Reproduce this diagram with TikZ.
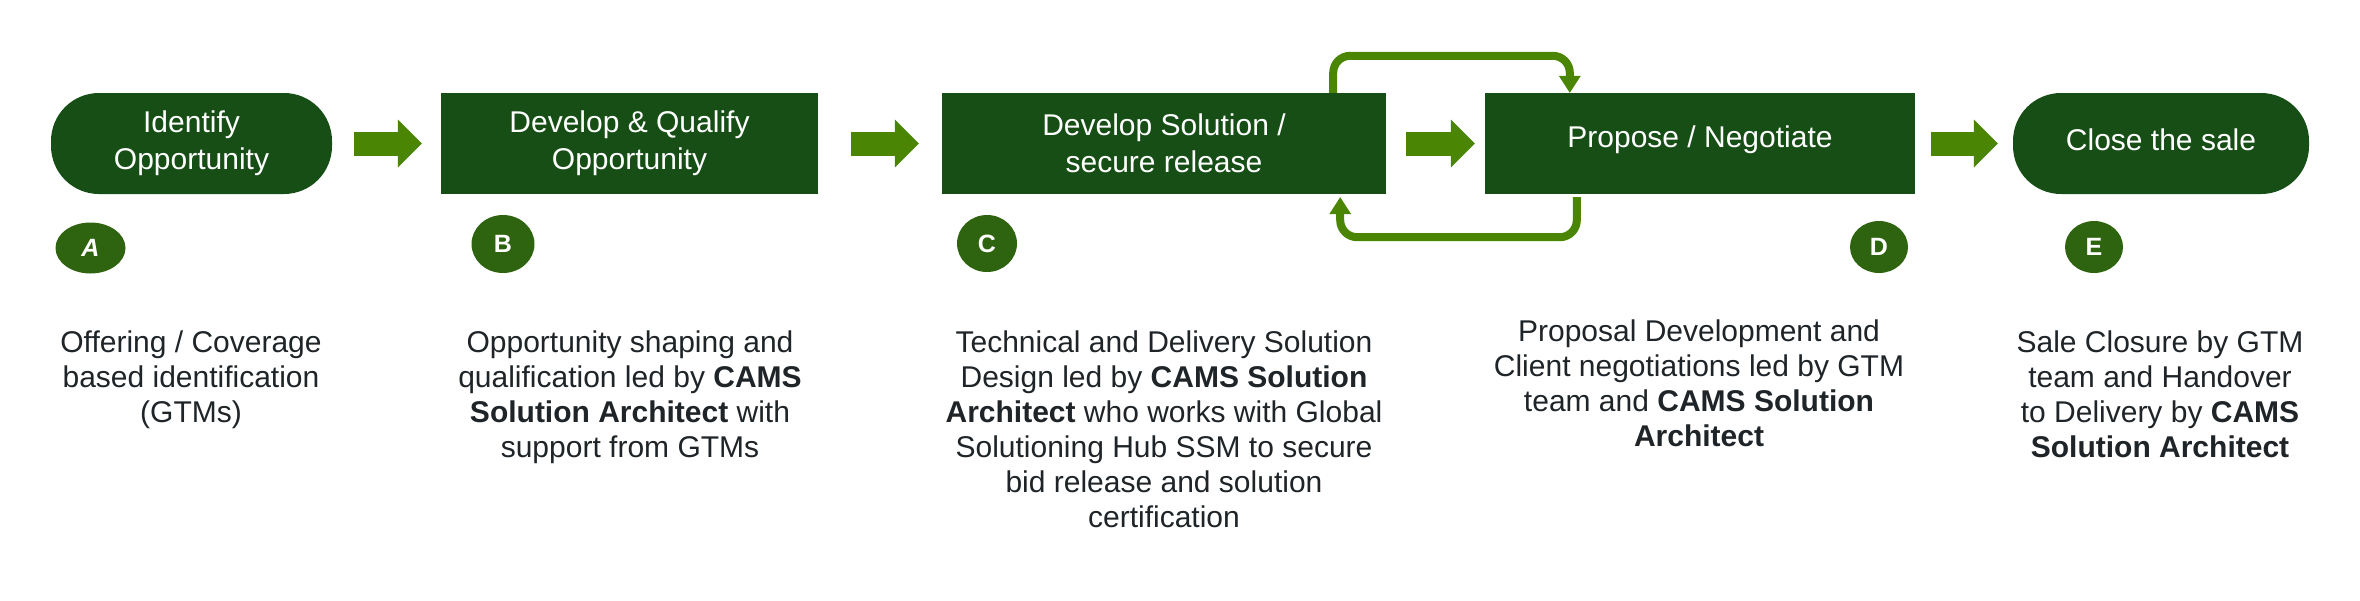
\documentclass[tikz,border=0pt]{standalone}
\usepackage{fontspec}
\setmainfont{Liberation Sans}
\usetikzlibrary{arrows.meta,shapes.geometric,calc}
\definecolor{boxgreen}{HTML}{164E16}
\definecolor{arrgreen}{HTML}{4A8504}
\definecolor{circgreen}{HTML}{2E640F}
\definecolor{txtdark}{HTML}{1E2427}
\begin{document}
\begin{tikzpicture}[x=1pt,y=-1pt,
  stage/.style={fill=boxgreen, minimum height=101pt, inner sep=0pt, text=white,
    font=\fontsize{30}{37}\selectfont, align=center},
  pill/.style={stage, rounded corners=48pt},
  stagetext/.style={inner sep=0pt, text=white, font=\fontsize{30}{37}\selectfont},
  badge/.style={ellipse, fill=circgreen, inner sep=0pt, text=white,
    font=\fontsize{25}{30}\selectfont\bfseries},
  desc/.style={anchor=north, inner sep=0pt, align=center, text=txtdark,
    font=\fontsize{30}{35}\selectfont},
  blockarrow/.style={draw=arrgreen, line width=24pt,
    -{Triangle[length=24pt,width=48pt,line width=0pt]}},
  looparrow/.style={draw=arrgreen, line width=8pt,
    -{Triangle[length=17pt,width=22pt,line width=0pt]}},
]
\useasboundingbox (0,0) rectangle (2360,600);

% stages
\node[pill, minimum width=281pt] (A) at (191.5,143.5) {Identify\\Opportunity};
\node[stage, minimum width=377pt] (B) at (629.5,143.5) {Develop \& Qualify\\Opportunity};
\node[stage, minimum width=444pt] (C) at (1164,143.5) {Develop Solution /\\secure release};
\node[stage, minimum width=430pt] (D) at (1700,143.5) {};
\node[stagetext] (Dt) at (1700,140) {Propose / Negotiate};
\node[pill, minimum width=296pt] (E) at (2161,143.5) {};
\node[stagetext] (Et) at (2161,140) {Close the sale};

% block arrows
\draw[blockarrow, shorten <=22pt, shorten >=19pt] (A) -- (B);
\draw[blockarrow, shorten <=33pt, shorten >=23pt] (B) -- (C);
\draw[blockarrow, shorten <=20pt, shorten >=10pt] (C) -- (D);
\draw[blockarrow, shorten <=16pt, shorten >=15pt] (D) -- (E);

% loop arrows
\draw[looparrow] ([xshift=-53pt]C.north east) {[rounded corners=17pt] -- ++(0,-37) -| ([xshift=85pt]D.north west)};
\draw[looparrow] ([xshift=92pt,yshift=-3pt]D.south west) {[rounded corners=17pt] -- ++(0,40) -| ([xshift=-46pt,yshift=-3pt]C.south east)};

% badges
\node[badge, minimum width=70pt, minimum height=51pt] (la) at (90.5,248) {\itshape A};
\node[badge, minimum width=63pt, minimum height=58pt] (lb) at (503,244) {B};
\node[badge, minimum width=60pt, minimum height=57pt] (lc) at (987,243.5) {C};
\node[badge, minimum width=58pt, minimum height=52pt] (ld) at (1879,247) {D};
\node[badge, minimum width=58pt, minimum height=52pt] (le) at (2094,247) {E};

% descriptions
\node[desc] (ta) at (191,331) {Offering / Coverage\\based identification\\(GTMs)};
\node[desc] (tb) at (630,331) {Opportunity shaping and\\qualification led by \textbf{CAMS}\\\textbf{Solution Architect} with\\support from GTMs};
\node[desc] (tc) at (1164,331) {Technical and Delivery Solution\\Design led by \textbf{CAMS Solution}\\\textbf{Architect} who works with Global\\Solutioning Hub SSM to secure\\bid release and solution\\certification};
\node[desc] (td) at (1699,320) {Proposal Development and\\Client negotiations led by GTM\\team and \textbf{CAMS Solution}\\\textbf{Architect}};
\node[desc] (te) at (2160,331) {Sale Closure by GTM\\team and Handover\\to Delivery by \textbf{CAMS}\\\textbf{Solution Architect}};
\end{tikzpicture}
\end{document}
